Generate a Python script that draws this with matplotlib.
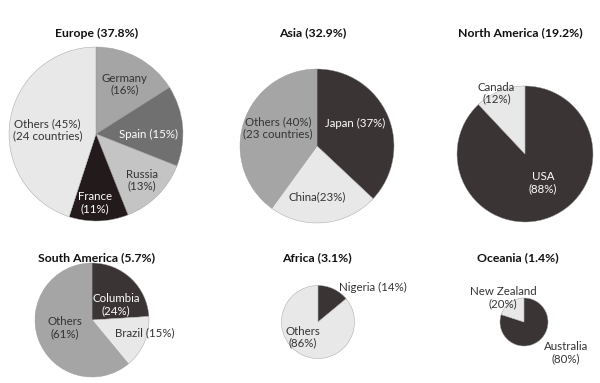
# Recreate the "share by region" pie grid: six pies of different sizes,
# each split by country. Layout is in pixel units of the 600x383 canvas.

import numpy as np
import matplotlib.pyplot as plt

W, H = 600, 383

# ---- data ----
regions = ["Europe", "Asia", "North America", "South America", "Africa", "Oceania"]
region_share = [37.8, 32.9, 19.2, 5.7, 3.1, 1.4]

europe_share = [16, 15, 13, 11, 45]
europe_labels = ["Germany\n(16%)", "Spain (15%)", "Russia\n(13%)", "France\n(11%)",
                 "Others (45%)\n(24 countries)"]

asia_share = [37, 23, 40]
asia_labels = ["Japan (37%)", "China(23%)", "Others (40%)\n(23 countries)"]

north_america_share = [88, 12]
north_america_labels = ["USA\n(88%)", "Canada\n(12%)"]

south_america_share = [24, 15, 61]
south_america_labels = ["Columbia\n(24%)", "Brazil (15%)", "Others\n(61%)"]

africa_share = [14, 86]
africa_labels = ["Nigeria (14%)", "Others\n(86%)"]

oceania_share = [80, 20]
oceania_labels = ["Australia\n(80%)", "New Zealand\n(20%)"]

shares = [europe_share, asia_share, north_america_share,
          south_america_share, africa_share, oceania_share]
labels = [europe_labels, asia_labels, north_america_labels,
          south_america_labels, africa_labels, oceania_labels]

# ---- style / layout ----
DARK, BLACK, MID, DGRAY, LGRAY, LIGHT = "#3a3434", "#231b1b", "#a5a5a5", "#707070", "#c4c4c4", "#e8e8e8"
colors = [
    [MID, DGRAY, LGRAY, BLACK, LIGHT],
    [DARK, LIGHT, MID],
    [DARK, LIGHT],
    [DARK, LIGHT, MID],
    [DARK, LIGHT],
    [DARK, LIGHT],
]
text_colors = [
    ["#333333", "white", "#333333", "white", "#333333"],
    ["white", "#333333", "#333333"],
    ["white", "#333333"],
    ["white", "#333333", "#333333"],
    ["#333333", "#333333"],
    ["#333333", "#333333"],
]
# pie centre (px), radius (px), title position (px)
centers = [(96, 134), (317, 146), (525, 154), (92, 320), (318, 322), (524, 322)]
radii = [87, 77, 68, 57, 36.5, 24]
title_pos = [(97, 33), (313, 33), (520, 33), (97, 258), (317, 258), (518, 258)]
# label position: (distance as fraction of radius, angle in degrees)
label_polar = [
    [(0.66, 60), (0.60, -1), (0.75, -45), (0.79, -91), (0.56, 175)],
    [(0.58, 31), (0.66, -90), (0.56, 155)],
    [(0.50, -58), (0.99, 115)],
    [(0.50, 32), (0.96, -14), (0.50, 196)],
    [(1.77, 32), (0.58, 225)],
    [(2.17, -36), (1.33, 131)],
]

plt.rcParams["font.family"] = ["Lato", "DejaVu Sans"]

fig = plt.figure(figsize=(W / 100, H / 100), dpi=100)
ax = fig.add_axes([0, 0, 1, 1])

for i, region in enumerate(regions):
    cx, cy = centers[i]
    cy = H - cy
    r = radii[i]
    ax.pie(shares[i], colors=colors[i], center=(cx, cy), radius=r,
           startangle=90, counterclock=False,
           wedgeprops=dict(edgecolor="#9a9a9a", linewidth=0.3))
    for lab, tc, (d, ang) in zip(labels[i], text_colors[i], label_polar[i]):
        a = np.deg2rad(ang)
        ax.text(cx + d * r * np.cos(a), cy + d * r * np.sin(a), lab,
                ha="center", va="center", color=tc, fontsize=8.3, linespacing=1.1)
    tx, ty = title_pos[i]
    ax.text(tx, H - ty, f"{region} ({region_share[i]}%)", ha="center", va="center",
            fontsize=8.8, fontweight="bold", color="#111111")

ax.set_xlim(0, W)
ax.set_ylim(0, H)
ax.set_aspect("equal")
ax.axis("off")

fig.savefig("out.png", dpi=100)
plt.close(fig)
